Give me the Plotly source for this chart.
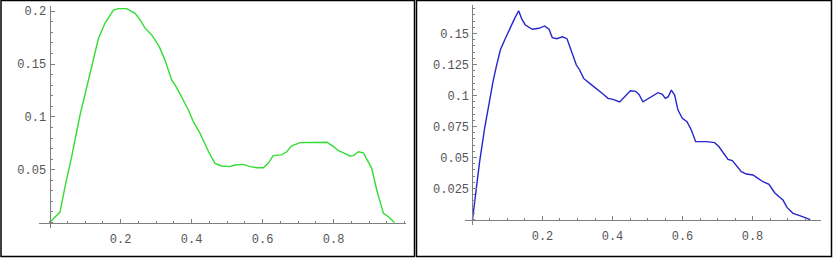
import plotly.graph_objects as go

# ---- data ----
left_x = [0.0, 0.0296, 0.0437, 0.0624, 0.086, 0.100, 0.119, 0.1376, 0.156, 0.180, 0.194,
          0.217, 0.241, 0.255, 0.269, 0.288, 0.309, 0.325, 0.344, 0.354, 0.372, 0.391,
          0.405, 0.424, 0.448, 0.466, 0.485, 0.508, 0.522, 0.546, 0.565, 0.584, 0.602,
          0.616, 0.630, 0.654, 0.668, 0.682, 0.706, 0.734, 0.781, 0.800, 0.814, 0.828,
          0.846, 0.856, 0.870, 0.884, 0.898, 0.9075, 0.9216, 0.9404, 0.9545, 0.9714]
left_y = [0.0, 0.0099, 0.034, 0.0623, 0.1018, 0.122, 0.1476, 0.174, 0.1886, 0.2012, 0.2025,
          0.2025, 0.198, 0.192, 0.184, 0.1776, 0.1665, 0.154, 0.135, 0.130, 0.119, 0.1065,
          0.0955, 0.0844, 0.067, 0.056, 0.0535, 0.0529, 0.0544, 0.055, 0.0529, 0.0519, 0.0519,
          0.056, 0.0633, 0.064, 0.067, 0.0727, 0.0756, 0.076, 0.076, 0.0718, 0.068, 0.066,
          0.063, 0.0633, 0.067, 0.066, 0.0576, 0.0513, 0.0308, 0.0087, 0.0055, 0.0]

right_x = [0.0, 0.0062, 0.0205, 0.0348, 0.0471, 0.0586, 0.068, 0.0795, 0.0919, 0.1062,
           0.1205, 0.1319, 0.1414, 0.151, 0.171, 0.190, 0.2062, 0.2186, 0.228, 0.2414,
           0.2567, 0.270, 0.2824, 0.2967, 0.3062, 0.3176, 0.3348, 0.3538, 0.3729, 0.3871,
           0.4014, 0.4205, 0.4376, 0.451, 0.4662, 0.4757, 0.4871, 0.5062, 0.530, 0.5424,
           0.551, 0.5595, 0.568, 0.5776, 0.5871, 0.5995, 0.6129, 0.6252, 0.6376, 0.6681,
           0.6919, 0.7043, 0.7157, 0.730, 0.7424, 0.7538, 0.7681, 0.7824, 0.8014, 0.8157,
           0.830, 0.8471, 0.8633, 0.8776, 0.8871, 0.8986, 0.9157, 0.9348, 0.949, 0.965]
right_y = [0.0, 0.0157, 0.0469, 0.0738, 0.0937, 0.1112, 0.1233, 0.1367, 0.1448, 0.1542,
           0.1622, 0.1684, 0.1614, 0.1569, 0.1534, 0.1542, 0.1561, 0.1534, 0.1467, 0.1458,
           0.1474, 0.1458, 0.1367, 0.1246, 0.1206, 0.1138, 0.1098, 0.1058, 0.1012, 0.0977,
           0.0969, 0.0948, 0.0999, 0.1039, 0.1034, 0.1009, 0.0950, 0.0985, 0.1023, 0.1009,
           0.0977, 0.0991, 0.1044, 0.1004, 0.0883, 0.0816, 0.0789, 0.0722, 0.0628, 0.0628,
           0.0620, 0.0587, 0.0539, 0.0485, 0.0475, 0.0432, 0.0386, 0.0367, 0.0359, 0.0332,
           0.0305, 0.0284, 0.0216, 0.0179, 0.0157, 0.0098, 0.005, 0.0031, 0.0015, 0.0]

x_tickvals = [0.2, 0.4, 0.6, 0.8]
x_ticktext = ["0.2", "0.4", "0.6", "0.8"]
left_y_tickvals = [0.05, 0.1, 0.15, 0.2]
left_y_ticktext = ["0.05", "0.1", "0.15", "0.2"]
right_y_tickvals = [0.025, 0.05, 0.075, 0.1, 0.125, 0.15]
right_y_ticktext = ["0.025", "0.05", "0.075", "0.1", "0.125", "0.15"]

# ---- layout geometry ----
W, H = 833, 258
AX = "#808080"
FONT = dict(family="Liberation Mono, Courier New, monospace", size=12, color="#555555")


def px_x(p):
    return p / W


def px_y(p):
    return 1 - p / H


def panel(xr, yr, xpx, ypx):
    # xpx: (left px, right px), ypx: (top px, bottom px)
    xdom = [px_x(xpx[0]), px_x(xpx[1])]
    ydom = [px_y(ypx[1]), px_y(ypx[0])]
    ypos = xdom[0] + (0 - xr[0]) / (xr[1] - xr[0]) * (xdom[1] - xdom[0])
    xpos = ydom[0] + (0 - yr[0]) / (yr[1] - yr[0]) * (ydom[1] - ydom[0])
    return xdom, ydom, xpos, ypos


L_xr, L_yr = [-0.0296, 1.004], [-0.0052, 0.205]
R_xr, R_yr = [-0.0214, 0.9957], [-0.0044, 0.173]
Lxd, Lyd, Lxpos, Lypos = panel(L_xr, L_yr, (39, 406), (6, 228))
Rxd, Ryd, Rxpos, Rypos = panel(R_xr, R_yr, (465, 821), (5, 225))


def xaxis(dom, rng, pos, vals, text):
    return dict(domain=dom, range=rng, anchor="free", position=pos, showline=True,
                linecolor=AX, linewidth=1, showgrid=False, zeroline=False,
                automargin=False,
                tickmode="array", tickvals=vals, ticktext=text, ticks="inside",
                ticklen=4, tickcolor=AX, tickwidth=1, tickfont=FONT,
                ticklabelstandoff=5,
                minor=dict(ticks="inside", ticklen=2, tickcolor=AX, tickwidth=1,
                           tickmode="linear", tick0=0, dtick=0.05, showgrid=False))


def yaxis(dom, rng, pos, vals, text, mdt):
    return dict(domain=dom, range=rng, anchor="free", position=pos, showline=True,
                linecolor=AX, linewidth=1, showgrid=False, zeroline=False,
                automargin=False,
                tickmode="array", tickvals=vals, ticktext=text, ticks="inside",
                ticklen=4, tickcolor=AX, tickwidth=1, tickfont=FONT,
                ticklabelstandoff=1,
                minor=dict(ticks="inside", ticklen=2, tickcolor=AX, tickwidth=1,
                           tickmode="linear", tick0=0, dtick=mdt, showgrid=False))


fig = go.Figure()
fig.add_trace(go.Scatter(x=left_x, y=left_y, mode="lines", xaxis="x", yaxis="y",
                         line=dict(color="#33dd33", width=1.4), showlegend=False,
                         hoverinfo="skip"))
fig.add_trace(go.Scatter(x=right_x, y=right_y, mode="lines", xaxis="x2", yaxis="y2",
                         line=dict(color="#2626cc", width=1.4), showlegend=False,
                         hoverinfo="skip"))

fig.update_layout(
    width=W, height=H, margin=dict(l=0, r=0, t=0, b=0, autoexpand=False),
    paper_bgcolor="white", plot_bgcolor="rgba(0,0,0,0)",
    xaxis=xaxis(Lxd, L_xr, Lxpos, x_tickvals, x_ticktext),
    yaxis=yaxis(Lyd, L_yr, Lypos, left_y_tickvals, left_y_ticktext, 0.01),
    xaxis2=xaxis(Rxd, R_xr, Rxpos, x_tickvals, x_ticktext),
    yaxis2=yaxis(Ryd, R_yr, Rypos, right_y_tickvals, right_y_ticktext, 0.005),
    shapes=[
        dict(type="rect", xref="paper", yref="paper", x0=px_x(1), x1=px_x(414.5),
             y0=px_y(256.5), y1=px_y(0.5), line=dict(color="black", width=1.5)),
        dict(type="rect", xref="paper", yref="paper", x0=px_x(416.5), x1=px_x(831.5),
             y0=px_y(256.5), y1=px_y(0.5), line=dict(color="black", width=1.5)),
    ],
)

fig.write_html(
    "out.html",
    config={"displayModeBar": False},
    post_script="document.body.style.margin='0px';document.body.style.overflow='hidden';",
)
